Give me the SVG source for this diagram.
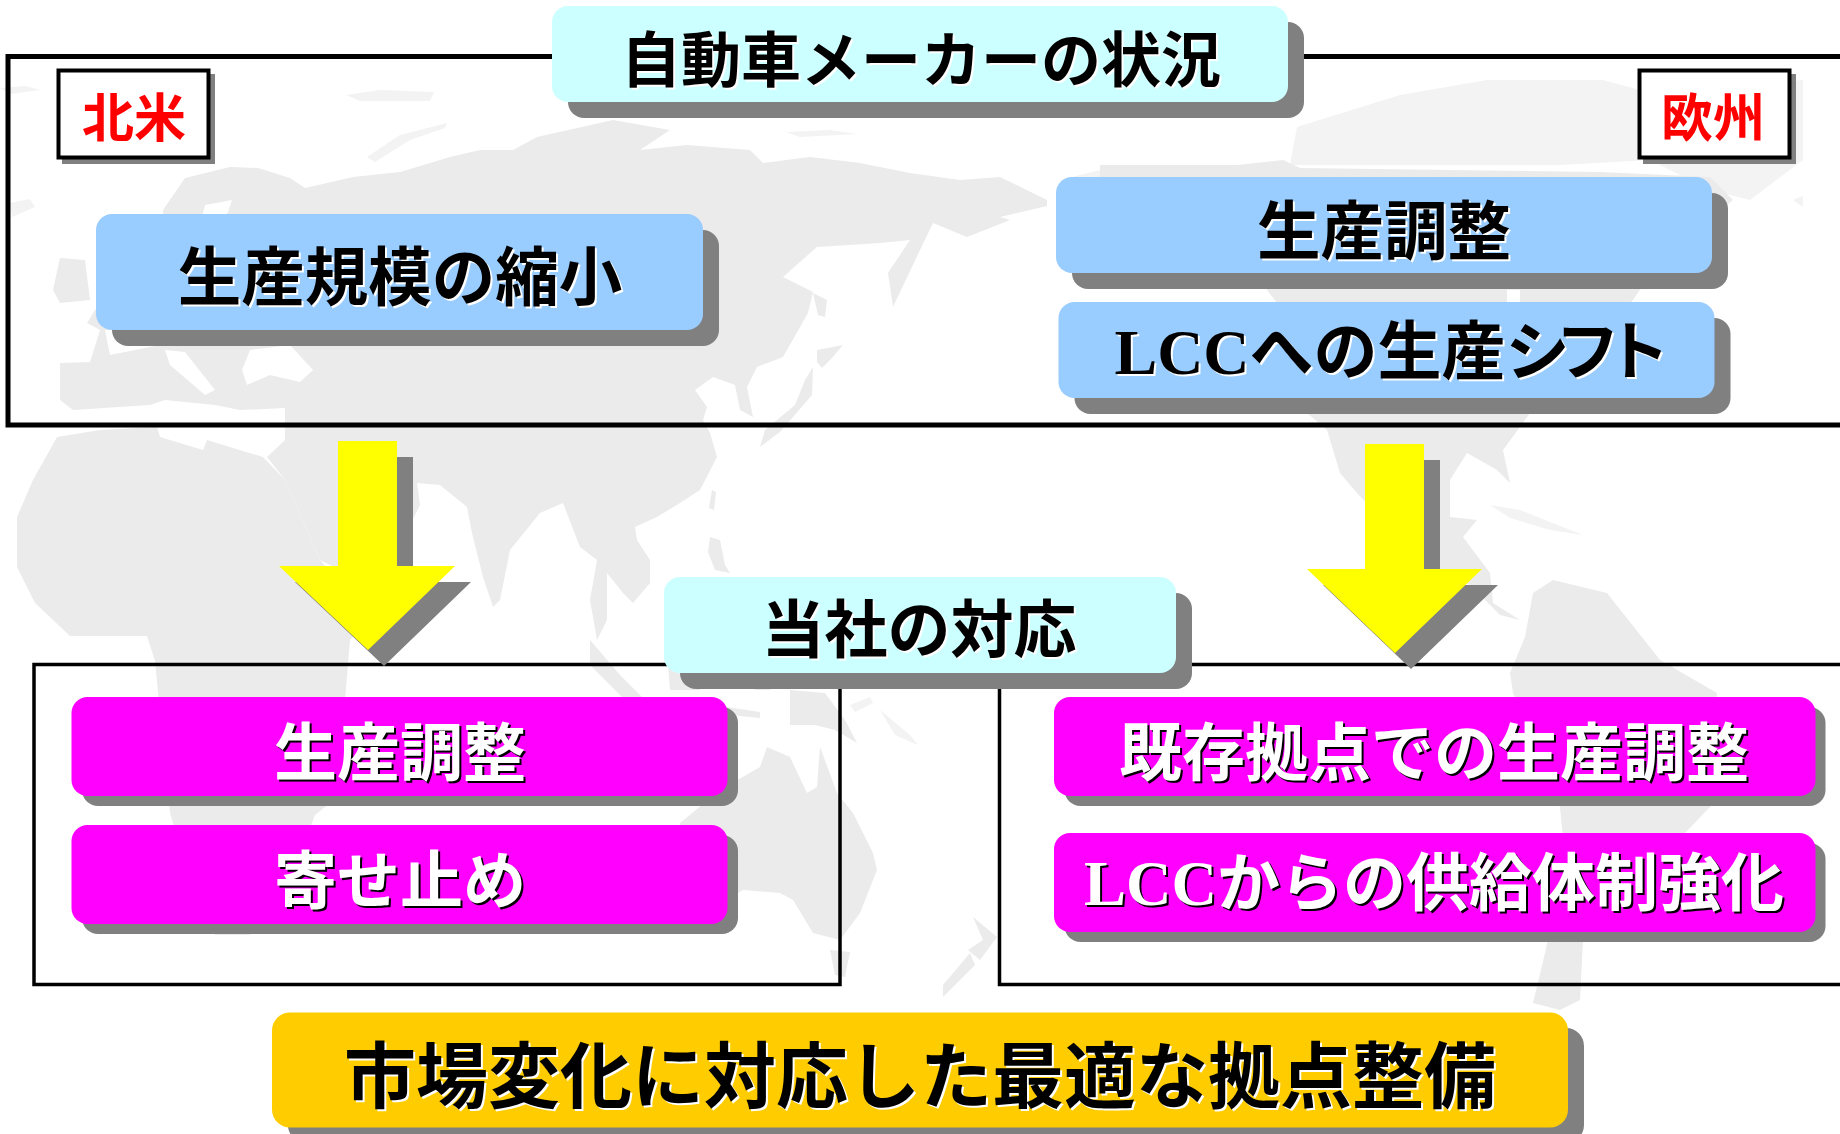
<svg xmlns="http://www.w3.org/2000/svg" width="1840" height="1134" viewBox="0 0 1840 1134">
<style>
text{font-family:"Noto Sans CJK JP","Noto Sans CJK SC",sans-serif;font-weight:700;text-anchor:middle}
.lcc{font-family:"Liberation Serif","Noto Sans CJK JP",serif}
.k{fill:#000;filter:drop-shadow(2.5px 2.5px 0 #fff)}
.w{fill:#fff;filter:drop-shadow(2.5px 2.5px 0 #000)}
.r{fill:#f00}
.s{fill:#808080}
.frame{fill:none;stroke:#000}
.land{fill:#ebebeb}
.faint{fill:#f3f3f3}
.sea{fill:#fff}
.cy{fill:#ccffff}.bl{fill:#99ccff}.mg{fill:#ff00ff}.or{fill:#ffcc00}
.ar{fill:#ffff00}
</style>
<rect width="1840" height="1134" fill="#fff"/>
<g id="map">
<polygon class="land" points="57,437 100,430 157,427 160,437 203,450 207,440 263,457 285,480 320,560 345,590 395,590 350,640 345,700 346,790 315,815 290,880 250,935 215,935 190,880 170,813 155,661 147,636 70,636 35,603 17,567 17,517 33,480"/>
<polygon class="land" points="163,210 185,178 230,167 258,168 290,178 305,188 327,183 353,177 400,172 450,157 480,150 513,150 537,137 613,120 670,130 640,150 687,145 750,150 763,163 810,157 860,163 910,173 960,180 1000,177 1047,200 1047,206 1000,217 1010,220 967,237 933,223 920,250 893,307 888,273 910,240 880,243 817,247 783,277 813,292 808,313 783,357 757,367 747,387 753,417 740,410 735,385 713,377 695,390 707,407 703,420 710,433 717,457 700,490 680,503 657,517 635,527 637,540 650,560 650,583 633,603 623,593 607,573 607,620 597,640 590,600 597,560 580,547 563,503 540,513 510,550 500,600 493,607 483,577 472,533 467,507 440,485 417,483 420,505 400,545 350,575 320,560 285,480 267,457 285,440 285,408 240,410 215,405 165,400 150,405 73,410 60,400 60,363 90,362 100,330 87,323 95,310 130,290 165,250"/>
<polygon class="sea" points="242,370 250,350 290,345 313,370 300,382 270,375 247,385"/>
<polygon class="sea" points="165,350 185,352 215,390 205,395 170,365"/>
<polygon class="sea" points="205,205 232,200 228,212 210,240 200,225"/>
<polygon class="sea" points="105,330 150,322 180,335 160,345 110,355"/>
<polygon class="faint" points="367,157 400,135 447,123 445,128 410,140 375,162"/>
<polygon class="land" points="60,258 85,260 90,300 60,303 53,290"/>
<polygon class="faint" points="10,203 30,199 35,207 12,217"/>
<polygon class="faint" points="0,88 25,86 40,90 10,94"/>
<polygon class="faint" points="346,95 380,90 434,92 430,101 360,101"/>
<polygon class="faint" points="786,132 830,130 857,134 800,137"/>
<polygon class="land" points="813,293 827,300 825,317 818,315"/>
<polygon class="land" points="817,350 843,345 832,358 822,368 817,362"/>
<polygon class="land" points="813,367 812,395 780,432 760,447 765,430 795,405 805,380"/>
<polygon class="land" points="712,490 716,492 714,510 709,508"/>
<polygon class="land" points="710,537 720,540 725,565 730,573 715,570 708,552"/>
<polygon class="land" points="590,640 620,675 645,700 630,705 590,665"/>
<polygon class="land" points="665,625 700,640 700,690 670,690"/>
<polygon class="land" points="750,650 780,640 770,690 755,690"/>
<polygon class="land" points="680,700 760,712 760,718 680,710"/>
<polygon class="land" points="790,690 825,693 845,720 857,743 835,730 815,725 790,725"/>
<polygon class="faint" points="850,705 870,697 873,703 855,712"/>
<polygon class="faint" points="880,710 910,735 918,745 895,735"/>
<polygon class="land" points="680,823 720,790 760,767 767,747 790,757 807,793 817,787 820,747 837,793 853,813 873,853 877,870 860,913 840,940 813,933 793,900 780,893 743,890 700,915 680,910 684,870"/>
<polygon class="land" points="830,950 850,952 845,977 835,975"/>
<polygon class="land" points="973,917 997,937 980,960 968,950 983,940"/>
<polygon class="land" points="970,953 975,965 943,997 943,985"/>
<polygon class="faint" points="1297,127 1400,95 1487,80 1603,80 1640,90 1803,80 1803,160 1750,200 1710,190 1650,160 1560,165 1450,165 1290,165"/>
<polygon class="land" points="1100,165 1237,165 1283,160 1300,168 1600,172 1710,177 1733,200 1660,260 1633,300 1580,360 1530,413 1520,427 1503,450 1510,483 1497,470 1467,453 1450,480 1450,517 1477,520 1463,537 1490,573 1493,603 1520,620 1500,615 1470,585 1420,560 1357,493 1340,473 1327,430 1307,413 1277,303 1267,290 1237,180 1100,178"/>
<polygon class="faint" points="1060,180 1100,170 1100,178 1065,190"/>
<polygon class="sea" points="1507,290 1520,290 1520,302 1507,302"/>
<polygon class="faint" points="1793,200 1803,196 1803,207"/>
<polygon class="faint" points="1490,505 1520,510 1550,522 1583,535 1550,530 1510,518"/>
<polygon class="land" points="1553,580 1533,593 1525,637 1510,673 1513,693 1560,807 1565,860 1545,953 1533,1003 1560,1010 1580,1000 1583,940 1640,880 1710,807 1717,693 1660,660 1607,593"/>
</g>
<g id="frames">
<rect id="frame-top" class="frame" stroke-width="5" x="8" y="56.5" width="1840" height="368.5"/>
<rect id="frame-left" class="frame" stroke-width="3.5" x="34" y="664.5" width="806" height="320"/>
<rect id="frame-right" class="frame" stroke-width="3.5" x="999.5" y="664.5" width="860" height="320"/>
</g>
<g id="connectors">
<polygon class="s" points="354,457 413,457 413,582 471,582 384,666 295,582 354,582"/>
<polygon class="ar" points="338,441 397,441 397,566 455,566 368,650 279,566 338,566"/>
<polygon class="s" points="1381,460 1440,460 1440,585 1498,585 1411,669 1323,585 1381,585"/>
<polygon class="ar" points="1365,444 1424,444 1424,569 1482,569 1395,653 1307,569 1365,569"/>
</g>
<g id="title">
<rect class="s" x="568" y="22" width="736" height="96" rx="16"/>
<rect class="cy" x="552" y="6" width="736" height="96" rx="16"/>
<text class="k" x="921" y="82" font-size="60">自動車メーカーの状況</text>
</g>
<g id="label-na">
<rect class="s" x="62" y="74" width="153" height="90"/>
<rect x="58.500" y="70.500" width="150" height="87" fill="#fff" stroke="#000" stroke-width="4"/>
<text class="r" x="134" y="137" font-size="52">北米</text>
</g>
<g id="label-eu">
<rect class="s" x="1643" y="74" width="153" height="90"/>
<rect x="1639.500" y="70.500" width="150" height="87" fill="#fff" stroke="#000" stroke-width="4"/>
<text class="r" x="1713" y="137" font-size="52">欧州</text>
</g>
<g id="na-shrink">
<rect class="s" x="112" y="230" width="607" height="116" rx="16"/>
<rect class="bl" x="96" y="214" width="607" height="116" rx="16"/>
<text class="k" x="400" y="300" font-size="63.500">生産規模の縮小</text>
</g>
<g id="eu-adjust">
<rect class="s" x="1072" y="193" width="656" height="96" rx="16"/>
<rect class="bl" x="1056" y="177" width="656" height="96" rx="16"/>
<text class="k" x="1384" y="254" font-size="63.500">生産調整</text>
</g>
<g id="eu-shift">
<rect class="s" x="1074.500" y="318" width="656" height="96" rx="16"/>
<rect class="bl" x="1058.500" y="302" width="656" height="96" rx="16"/>
<text class="k lcc" x="1385" y="374" font-size="64">LCCへの生産<tspan letter-spacing="-14">シフト</tspan></text>
</g>
<g id="company-response">
<rect class="s" x="680" y="593" width="512" height="96" rx="16"/>
<rect class="cy" x="664" y="577" width="512" height="96" rx="16"/>
<text class="k" x="919" y="652" font-size="63">当社の対応</text>
</g>
<g id="left-adjust">
<rect class="s" x="82" y="707" width="656" height="99" rx="16"/>
<rect class="mg" x="71.500" y="697" width="656" height="99" rx="16"/>
<text class="w" x="400" y="775" font-size="63">生産調整</text>
</g>
<g id="left-stop">
<rect class="s" x="82" y="835" width="656" height="99" rx="16"/>
<rect class="mg" x="71.500" y="825" width="656" height="99" rx="16"/>
<text class="w" x="400" y="903" font-size="63">寄せ止め</text>
</g>
<g id="right-adjust">
<rect class="s" x="1064.500" y="707" width="761" height="99" rx="16"/>
<rect class="mg" x="1054" y="697" width="761.500" height="99" rx="16"/>
<text class="w" x="1434" y="775" font-size="63">既存拠点での生産調整</text>
</g>
<g id="right-supply">
<rect class="s" x="1064.500" y="843" width="761" height="99" rx="16"/>
<rect class="mg" x="1054" y="833" width="761.500" height="99" rx="16"/>
<text class="w lcc" x="1434" y="905" font-size="63">LCCからの供給体制強化</text>
</g>
<g id="conclusion">
<rect class="s" x="288" y="1028" width="1296" height="115" rx="18"/>
<rect class="or" x="272" y="1012.500" width="1296" height="115" rx="18"/>
<text class="k" x="920" y="1102" font-size="72">市場変化に対応した最適な拠点整備</text>
</g>
</svg>
